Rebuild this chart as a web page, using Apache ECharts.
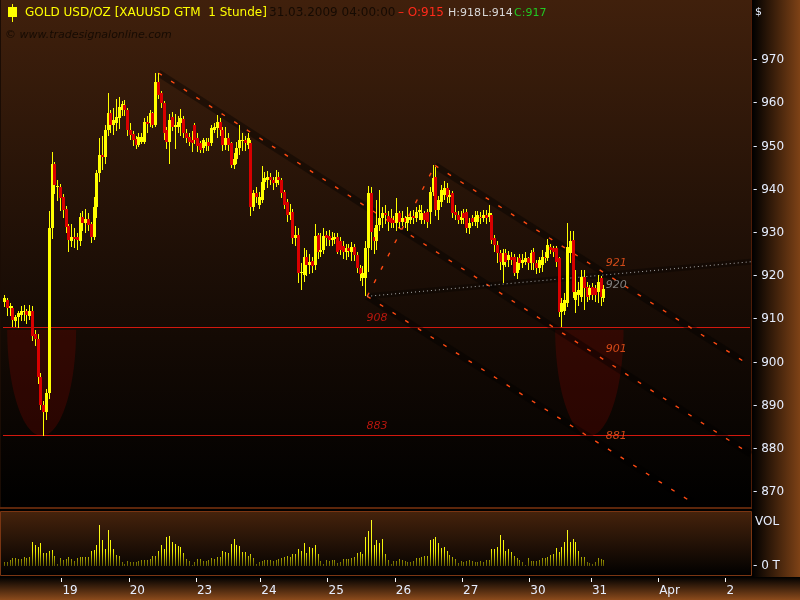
<!DOCTYPE html>
<html><head><meta charset="utf-8">
<script src="https://cdn.jsdelivr.net/npm/echarts@6/dist/echarts.min.js"></script>
<style>html,body{margin:0;padding:0;background:#000;}#c{width:800px;height:600px;}</style>
</head><body><div id="c"></div>
<script>
// ---------- data ----------
const dayLabels = ['18','19','20','23','24','25','26','27','30','31','Apr','2'];
const daySlots  = [21,24,24,23,24,24,24,24,22,24,24,9];

const open = [914,914.5,912.6,912.5,909.5,910.6,911,911.6,911.9,910.7,912,906.5,905.4,896.6,890.2,888.6,893,931,946,940.5,
940.5,938.3,935.5,931.5,928,929,929,928,933.7,932.3,933.2,932,929.1,936,943.8,948,947.6,953.8,957.7,955,
955.5,956.5,958.4,959.6,958.4,953.8,952.8,951.8,950.3,951.1,951.1,955.7,955.5,957.7,955,965,962.3,960,953.8,951.1,
956.9,954.6,954.6,955.5,956.3,953,952.2,951.5,955,951.9,950.7,949.6,950,951.1,950.7,953.8,954.2,955.7,953.8,950.3,
951.9,950.7,945.7,947.2,949.6,951.2,951.5,950.3,950.7,936,939.1,936.4,937.6,941.8,942.2,943,942.2,941.5,943,942.2,
939.5,937.2,934.1,934.9,928.7,929.5,920.6,920.2,924.5,922.5,923.5,922.5,929.5,925.6,926,929.5,929.3,928.4,928.6,929.1,
928,927,925.6,926.4,925.6,926.6,924.9,921.8,919.5,919.5,926.4,939.1,929.1,928,931.8,933.4,934.5,934,933.4,933,
932.3,934.5,932.6,933.4,932.3,933,934,933.4,934.9,933,934.5,934.9,934.9,939.5,943,935.3,937.2,938.8,940.3,938.4,
939.1,934.9,934.1,933,934.5,934.9,931,933.4,932.6,932.6,933.7,933.4,934.1,933.7,934.1,928.7,927.2,925.3,922.6,925.3,
923.7,924.5,924.5,920.6,924.1,922.9,923.3,924.1,922.9,925.6,922.9,921.8,922.5,924.5,924.1,926.8,926.4,926.4,924.1,911.7,
912,913.7,925.3,928.3,914.5,915.6,915.2,919.8,917.5,915.6,917.5,917.2,916.4,919.5,915];
const close = [914.8,912.6,913,909.8,910.5,911.4,911.8,911.8,910.9,912,906.2,905.4,896.6,890.1,888.6,893,931,946,941,940.8,
938,935.3,931.3,928.3,929,928.6,928.4,933.7,932.3,933.2,931.8,929,936,943.8,948,947.6,953.8,957.7,955,956.1,
956.9,959.2,959.8,958.4,953.8,952.6,951.5,950.3,952.2,952.2,955.7,955.3,957.7,955,964.8,961.9,960,953,951.1,956.1,
954.6,955,955.7,956.5,953,951.9,951.1,950.7,951.5,950,949.2,951.5,951.1,950,954.2,954.6,955.7,953.8,950.3,951.9,
950.3,945.7,947.2,949.6,951.5,951.5,950.7,951.9,936,939.1,938.4,938.4,941.8,942.6,943,942.2,941.5,943,942.2,939.1,
936.4,934.1,934.9,928.7,929.5,920.6,921,924.5,922.6,923.3,922.3,929.3,925.6,926,929.3,928.7,928.4,928.9,929.1,925.6,
926.1,925.6,926.4,925.9,926.8,924.9,921.8,920.5,920.6,926.4,939.1,930.3,928,931.8,933.4,934.5,934.1,932.6,932.3,932.3,
934.5,932.6,933.4,932.6,933.7,933.7,933.4,934.9,935.3,934.5,933,932.6,939.5,942.6,935.3,937.6,939.9,940.3,938.4,938.8,
934.5,934.1,933,933.7,933.4,931,932.2,932.6,933.7,934.1,933.4,934.1,933.4,934.5,928.3,927.2,925.3,923.3,925.3,923.3,
924.8,923.7,920.6,923.3,922.9,923.7,924.1,922.9,925.3,922.9,921.8,923.7,924.5,924.1,927.2,926,925.6,923.3,911.7,913.7,
914.5,926.8,928,916.4,916.4,916.8,919.8,917.2,915.2,917.2,915.6,915.6,918.7,915.2,917];
const low = [912.8,910.8,910.8,908.3,908.2,908,909.5,909.5,909,909.8,905,903.8,895,889,883,886.7,891.5,928.5,939,937.3,
935,933.5,930,925.5,926.7,926.5,926,927,930.5,930,930.5,927.7,928.3,933.4,941.8,944.5,946,952.5,953,952.6,
953.5,954,957,957,952.5,951.5,950,949.5,949.8,950.5,950.5,953,954.5,954.3,954.5,961,959,951.5,949.5,946,
953.5,949.5,953,952.3,952,950.8,950,948.8,950.5,948.8,948.5,948.5,949,949,950,953,951.9,952.5,949,949.2,
949,945,944.8,946,948,949,949,949.5,934,935,937,935.5,937,940,940.3,941,940,940.5,941,938,
935.5,932.5,933,927.5,927,918.3,916.8,918.5,920,920.5,920.8,921.5,924,924.5,925,927,927,927,927.5,925,
924.8,924,923.8,924.5,923.5,923.5,920.8,918.8,917.7,915.3,921,926,925,926,930.5,931,932,930.5,931,931,
930.5,931,931.5,931,930.5,932,932,932.5,933,932,932,931,932,938.5,934,933,936,937.5,937,937,
933.5,933,932,932,932,930,929.8,931.5,931.5,931,932,932.5,932,932.5,927.5,925.5,923,921.5,918.3,922,
922,922.5,920,919.3,921.5,921.8,922.5,921.5,921.5,921.5,920.5,920.8,921,923,923.5,925,924.5,922,910.5,908.3,
911,912.8,923,915,911.4,913,914,912.1,914,914.5,914.5,914,913.7,913,914];
const high = [915.5,915,913.8,913,911,912,913,913.2,912.4,913.4,913,907.5,906.5,897.5,891,893.8,935,948.7,946.5,942.2,
941.2,939,936.2,932,932,931,930,934.5,935,935.5,934.5,932.5,938.3,944.5,952,952.3,955,962.3,958.5,959,
961,961.5,960.5,960.7,959,955.4,953.5,952.5,953,953,956.5,957,958.5,958,967,967,962.8,960.5,954.5,957.5,
958,957.5,957,958.6,957,954,953,953.5,955.5,953,951.3,952,952,952,955,955.5,957.3,956.5,954.5,954.5,
953,951,948.5,951,955,953,952.5,953,951.5,939.8,940.5,939.5,945.5,944,944.2,943.8,943,944.5,944,942.8,
940,937.8,936.7,935.4,931.6,931,923,926.5,926,925,924.5,932,930,930,931,930.5,930.6,930.2,930,930,
929,928,927.5,927.3,927.8,927.5,925.5,922.5,922.4,928,940.8,940.6,931,937.5,940,936,936.5,935,935.5,934,
938,935,935,934,936,935,935.3,936,936.5,936.5,935,935.5,940.5,945.7,945.3,938.5,941,942,941.5,940,
939.6,936.5,935,935,935.5,935.5,933.5,934.2,935,935,934.8,935.3,935.2,936.5,934.6,929.5,928,926,926.2,926.3,
925.8,925.5,925,924.5,925,925,925.5,924.5,926,926.5,923.8,924.3,926,925.5,928.5,927.5,927,927,924.5,915,
916,932.2,930.5,930.5,921.4,918.5,921.4,921.4,918.5,918,918.3,918,920.2,920,918];
const volume = [13,13,18,23,23,20,20,26,23,26,72,63,56,70,40,40,45,48,30,6,
23,18,20,26,20,15,25,26,28,26,28,46,48,63,123,78,50,108,80,50,
33,30,13,6,15,11,11,12,15,18,18,18,20,30,30,46,63,51,88,90,
71,66,60,57,38,20,15,2,12,20,20,15,15,18,23,20,26,28,45,41,
38,66,81,63,59,42,41,30,35,23,6,13,16,18,18,18,15,18,22,25,
28,30,28,35,36,51,45,69,38,56,53,63,35,15,6,18,15,18,18,10,
13,20,20,20,23,27,40,43,36,88,105,138,64,78,70,83,36,18,6,15,
16,20,18,15,13,13,15,23,25,26,30,30,78,83,88,70,53,56,45,33,
28,20,8,15,13,16,18,16,13,13,15,13,18,18,50,50,56,93,78,46,
50,42,30,23,18,12,3,23,15,15,15,18,23,25,26,33,35,53,43,58,
71,108,73,83,71,45,26,26,13,8,6,13,23,20,18];

const priceTicks = [870,880,890,900,910,920,930,940,950,960,970];
const hLevels = [908, 883];
// trend lines: [slot, price] endpoints
const channelLines = [
  [[55, 967], [266.5, 878.7]],
  [[129.5, 915.3], [245.5, 867.6]],
  [[153.7, 945.6], [263.5, 900.4]]
];
const riseLine = [[129.5, 915.3], [153.7, 945.6]];
const dottedLine = [[129.5, 915.3], [266.5, 923.3]];
// U zones: [centerSlot, halfWidthSlots, topPrice, bottomPrice]
const zones = [[13.3, 12.3, 908, 883], [208.8, 12.2, 908, 883]];
// level labels: [slot, price, text, kind]
const levelLabels = [
  [133, 910.3, '908', 'red'], [133, 885.2, '883', 'red'],
  [218.4, 922.9, '921', 'orange'], [218.4, 918.0, '920', 'gray'],
  [218.4, 903.0, '901', 'orange'], [218.4, 882.9, '881', 'orange']
];

// ---------- build ----------
const categories = [];
const tickKeys = {};
const dayStarts = [];
let start = 0;
dayLabels.forEach((d, k) => {
  if (k > 0) { tickKeys[start - 1] = d; dayStarts.push(start); }
  for (let h = 0; h < daySlots[k]; h++) categories.push(d + ' ' + h);
  start += daySlots[k];
});
const N = categories.length;
const labelByCat = {};
Object.keys(tickKeys).forEach(i => { labelByCat[categories[i]] = tickKeys[i]; });
const isTick = (i) => tickKeys[i] !== undefined;

const candleRows = open.map((o, i) => [i, o, close[i], low[i], high[i]]);
const volRows = volume.map((v, i) => [i, v]);
const LG = echarts.graphic.LinearGradient;
const FONT = '"DejaVu Sans", sans-serif';
const labelColors = { red: '#e01a10', orange: '#ff5a1e', gray: '#9c9c9c' };

const chart = echarts.init(document.getElementById('c'), null, { renderer: 'canvas' });

function lineSeries(pts, style, z) {
  return { type: 'line', xAxisIndex: 1, yAxisIndex: 0, data: pts, symbol: 'none', silent: true,
    lineStyle: style, z: z, animation: false, clip: true };
}

const series = [];
// zones
series.push({
  type: 'custom', xAxisIndex: 1, yAxisIndex: 0, z: 1, silent: true, clip: true,
  data: zones,
  renderItem: (p, api) => {
    const c = api.value(0), hw = api.value(1), t = api.value(2), b = api.value(3);
    const pl = api.coord([c - hw, t]), pr = api.coord([c + hw, t]), pb = api.coord([c, b]);
    const cx = (pl[0] + pr[0]) / 2, rx = (pr[0] - pl[0]) / 2, ry = pb[1] - pl[1];
    const pts = [];
    for (let k = 0; k <= 60; k++) {
      const a = Math.PI * k / 60;
      pts.push([cx - rx * Math.cos(a), pl[1] + 2 + (ry - 2) * Math.sin(a)]);
    }
    return { type: 'polygon', shape: { points: pts }, style: { fill: 'rgba(120,8,0,0.30)' } };
  }
});
// horizontal levels (pixel-snapped)
series.push({
  type: 'custom', xAxisIndex: 1, yAxisIndex: 0, z: 2, silent: true, clip: true,
  data: hLevels.map(v => [v]), encode: { y: 0 },
  renderItem: (p, api) => {
    const y = Math.floor(api.coord([0, api.value(0)])[1]);
    const cs = p.coordSys;
    return { type: 'rect', shape: { x: cs.x, y: y, width: cs.width - 1, height: 1 }, style: { fill: '#d2180e' } };
  }
});
// bands
channelLines.forEach(l => series.push(lineSeries(l, { color: 'rgba(0,0,0,0.38)', width: 7 }, 2)));
series.push(lineSeries(dottedLine, { color: 'rgba(0,0,0,0.3)', width: 6 }, 2));
// dashed lines
channelLines.forEach(l => series.push(lineSeries(l, { color: '#ff4a12', width: 1.4, type: [4, 11] }, 3)));
series.push(lineSeries(riseLine, { color: '#ff4a12', width: 1.4, type: [4, 11] }, 3));
series.push(lineSeries(dottedLine, { color: '#a8a8a8', width: 1, type: [1, 3] }, 3));
// candles
series.push({
  type: 'custom', xAxisIndex: 0, yAxisIndex: 0, z: 5, clip: true, silent: true,
  data: candleRows, encode: { x: 0, y: [1, 2, 3, 4] },
  renderItem: (p, api) => {
    const i = api.value(0), o = api.value(1), c = api.value(2), l = api.value(3), h = api.value(4);
    const po = api.coord([i, o]), pc = api.coord([i, c]), pl = api.coord([i, l]), ph = api.coord([i, h]);
    const k = Math.floor(po[0]);
    const top = Math.round(Math.min(po[1], pc[1])), bot = Math.round(Math.max(po[1], pc[1]));
    const yh = Math.round(ph[1]), yl = Math.round(pl[1]);
    return { type: 'group', children: [
      { type: 'rect', shape: { x: k, y: yh, width: 1, height: Math.max(1, yl - yh) }, style: { fill: '#ffff00' } },
      { type: 'rect', shape: { x: k - 1, y: top, width: 3, height: Math.max(1, bot - top) },
        style: { fill: c >= o ? '#ffff00' : '#d80000' } }
    ] };
  }
});
// level labels
series.push({
  type: 'scatter', xAxisIndex: 1, yAxisIndex: 0, z: 6, silent: true, symbolSize: 1,
  itemStyle: { color: 'rgba(0,0,0,0)' },
  data: levelLabels.map(r => ({ value: [r[0], r[1]],
    label: { show: true, position: 'inside', formatter: r[2], color: labelColors[r[3]], fontSize: 11, fontFamily: FONT, fontStyle: 'italic' } }))
});
// volume (pixel-snapped bars)
const volFill = new LG(0, 513, 0, 566, [
  { offset: 0, color: '#ffff30' }, { offset: 0.72, color: '#f4f400' }, { offset: 1, color: '#5a5400' }], true);
series.push({
  type: 'custom', xAxisIndex: 2, yAxisIndex: 1, z: 5, silent: true, clip: true,
  data: volRows, encode: { x: 0, y: 1 },
  renderItem: (p, api) => {
    const pt = api.coord([api.value(0), api.value(1)]);
    const base = api.coord([api.value(0), 0]);
    const x = Math.floor(pt[0]);
    const y = Math.round(pt[1]), b = Math.round(base[1]);
    return { type: 'rect', shape: { x: x, y: y, width: 1, height: Math.max(1, b - y) }, style: { fill: volFill } };
  }
});
// day ticks below the volume panel, at day boundaries
series.push({
  type: 'custom', xAxisIndex: 3, yAxisIndex: 1, z: 6, silent: true, clip: false,
  data: dayStarts.map(s => [s - 0.5]), encode: { x: 0 },
  renderItem: (p, api) => {
    const pt = api.coord([api.value(0), 0]);
    return { type: 'rect', shape: { x: Math.floor(pt[0]), y: Math.round(pt[1]) + 12, width: 1, height: 4 }, style: { fill: '#ffffff' } };
  }
});

const option = {
  animation: false,
  backgroundColor: '#000',
  grid: [
    { left: 3, right: 49, top: 0, height: 506 },
    { left: 3, right: 49, top: 513, height: 53 }
  ],
  xAxis: [
    { type: 'category', gridIndex: 0, data: categories, boundaryGap: true, show: false },
    { type: 'value', gridIndex: 0, min: -0.5, max: N - 0.5, show: false },
    { type: 'category', gridIndex: 1, data: categories, boundaryGap: true, position: 'bottom', offset: 12,
      axisLine: { show: false }, splitLine: { show: false }, axisTick: { show: false },
      axisLabel: { show: true, interval: (i) => isTick(i), formatter: (v) => labelByCat[v] || '', align: 'left',
        color: '#e6eeff', fontFamily: FONT, fontSize: 12, margin: 7, padding: [0, 0, 0, 2] } },
    { type: 'value', gridIndex: 1, min: -0.5, max: N - 0.5, show: false }
  ],
  yAxis: [
    { type: 'value', gridIndex: 0, position: 'right', min: 866.76, max: 983.89, splitNumber: 12, scale: true,
      axisLine: { show: false }, axisTick: { show: false }, splitLine: { show: false },
      axisLabel: { margin: 2, color: '#e6eeff', fontFamily: FONT, fontSize: 12,
        formatter: (v) => priceTicks.indexOf(Math.round(v)) >= 0 && Math.abs(v - Math.round(v)) < 1e-6 ? '- ' + Math.round(v) : '' } },
    { type: 'value', gridIndex: 1, position: 'right', min: 0, max: 160, interval: 160,
      axisLine: { show: false }, axisTick: { show: false }, splitLine: { show: false },
      axisLabel: { margin: 2, color: '#e6eeff', fontFamily: FONT, fontSize: 12, formatter: (v) => v === 0 ? '- 0 T' : '' } }
  ],
  graphic: { elements: [
    { type: 'rect', z: -10, silent: true, shape: { x: 0, y: 0, width: 800, height: 600 }, style: { fill: '#000' } },
    { type: 'rect', z: -9, silent: true, shape: { x: 0, y: 0, width: 751, height: 507 },
      style: { fill: new LG(0, 0, 0, 1, [{ offset: 0, color: '#40200c' }, { offset: 0.5, color: '#1e0f06' }, { offset: 1, color: '#000000' }]) } },
    { type: 'rect', z: -9, silent: true, shape: { x: 752, y: 0, width: 48, height: 577 },
      style: { fill: new LG(0, 0, 1, 0, [{ offset: 0, color: '#000000' }, { offset: 1, color: '#7e4216' }]) } },
    { type: 'rect', z: -9, silent: true, shape: { x: 0, y: 577, width: 800, height: 23 },
      style: { fill: new LG(0, 0, 0, 1, [{ offset: 0, color: '#000000' }, { offset: 1, color: '#8c4b1c' }]) } },
    { type: 'rect', z: -9, silent: true, shape: { x: 0, y: 507, width: 752, height: 2 }, style: { fill: '#5c260b' } },
    { type: 'rect', z: -9, silent: true, shape: { x: 0.5, y: 511.5, width: 751, height: 64 },
      style: { fill: new LG(0, 0, 0, 1, [{ offset: 0, color: '#46230c' }, { offset: 1, color: '#000000' }]), stroke: '#7a3512', lineWidth: 1 } },
    { type: 'rect', z: -8, silent: true, shape: { x: 751, y: 0, width: 1, height: 507 }, style: { fill: '#4e1c08' } },
    { type: 'rect', z: -8, silent: true, shape: { x: 0, y: 0, width: 1, height: 507 }, style: { fill: '#1a0c04' } },
    // title icon
    { type: 'rect', z: 100, silent: true, shape: { x: 12, y: 4, width: 1, height: 18 }, style: { fill: '#ffff00' } },
    { type: 'rect', z: 100, silent: true, shape: { x: 8, y: 7, width: 9, height: 10 }, style: { fill: '#ffff00' } },
    { type: 'text', z: 100, silent: true, x: 25, y: 13, style: { text: 'GOLD USD/OZ [XAUUSD GTM  1 Stunde]', fill: '#ffff00', font: '12px ' + FONT, verticalAlign: 'middle' } },
    { type: 'text', z: 100, silent: true, x: 269, y: 13, style: { text: '31.03.2009 04:00:00', fill: '#160b03', font: '12px ' + FONT, verticalAlign: 'middle' } },
    { type: 'text', z: 100, silent: true, x: 398, y: 13, style: { text: '– O:915', fill: '#ff2a1a', font: '12px ' + FONT, verticalAlign: 'middle' } },
    { type: 'text', z: 100, silent: true, x: 448, y: 13, style: { text: 'H:918', fill: '#d8d8d8', font: '11px ' + FONT, verticalAlign: 'middle' } },
    { type: 'text', z: 100, silent: true, x: 482, y: 13, style: { text: 'L:914', fill: '#d8d8d8', font: '11px ' + FONT, verticalAlign: 'middle' } },
    { type: 'text', z: 100, silent: true, x: 514, y: 13, style: { text: 'C:917', fill: '#22c822', font: '11px ' + FONT, verticalAlign: 'middle' } },
    { type: 'text', z: 100, silent: true, x: 5, y: 35, style: { text: '© www.tradesignalonline.com', fill: '#160b03', font: 'italic 11px ' + FONT, verticalAlign: 'middle' } },
    { type: 'text', z: 100, silent: true, x: 755, y: 12, style: { text: '$', fill: '#e6eeff', font: '11px ' + FONT, verticalAlign: 'middle' } },
    { type: 'text', z: 100, silent: true, x: 755, y: 522, style: { text: 'VOL', fill: '#e6eeff', font: '12px ' + FONT, verticalAlign: 'middle' } }
  ] },
  series: series
};
chart.setOption(option);
</script>
</body></html>
